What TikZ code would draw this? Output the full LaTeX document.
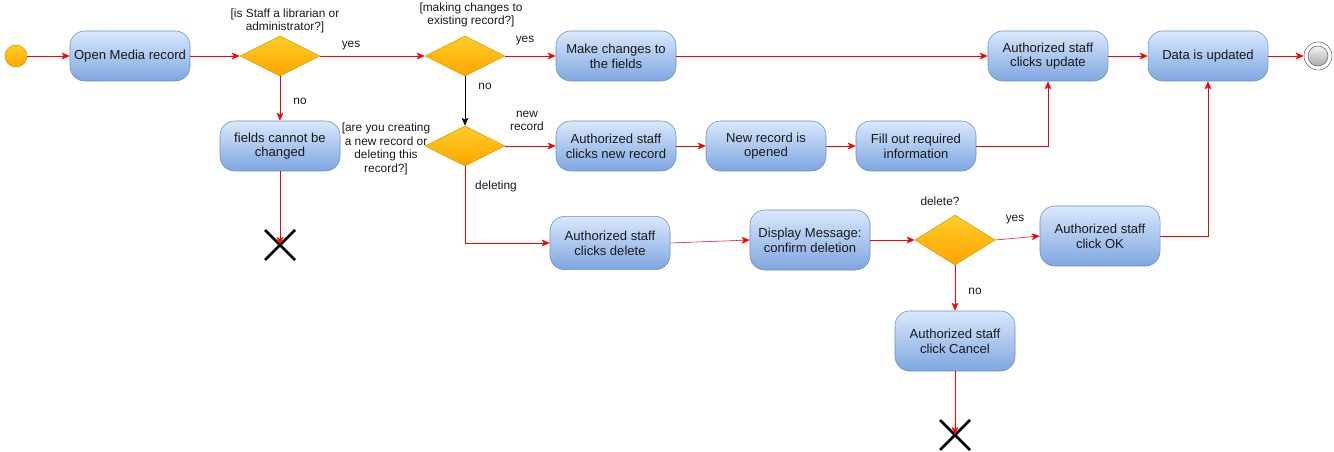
\documentclass[tikz,border=0pt]{standalone}
\usepackage{fontspec}
\setmainfont{Liberation Sans}
\usetikzlibrary{shapes.geometric,arrows.meta}
\definecolor{boxtop}{HTML}{DAE8FC}
\definecolor{boxbot}{HTML}{7EA6E0}
\definecolor{boxline}{HTML}{6C8EBF}
\definecolor{dtop}{HTML}{FFCD28}
\definecolor{dbot}{HTML}{FFA500}
\definecolor{dline}{HTML}{D79B00}
\definecolor{etop}{HTML}{F5F5F5}
\definecolor{ebot}{HTML}{A8A8A8}
\definecolor{eline}{HTML}{666666}
\definecolor{txt}{HTML}{1A1A1A}
\begin{document}
\begin{tikzpicture}[x=0.75pt,y=-0.75pt,
  act/.style={draw=boxline, top color=boxtop, bottom color=boxbot, rounded corners=11pt,
    minimum width=90pt, minimum height=37.5pt, inner sep=1pt, align=center,
    font=\fontsize{9.8}{11}\selectfont, text=txt},
  acttall/.style={act, minimum height=45pt},
  dec/.style={diamond, draw=dline, top color=dtop, bottom color=dbot, aspect=2,
    minimum width=60pt, minimum height=30pt, inner sep=0pt},
  lbl/.style={font=\fontsize{8.9}{10.3}\selectfont, text=txt, align=center, inner sep=0pt},
  flow/.style={draw=red, -{Stealth[length=6pt,width=5pt,inset=1.5pt]}},
  bflow/.style={draw=black, -{Stealth[length=6pt,width=5pt,inset=1.5pt]}},
  xmark/.style={draw=black, line width=2pt}
]
\useasboundingbox (0,0) rectangle (1334,452);

% start / end
\node[circle, draw=dline, top color=dtop, bottom color=dbot, minimum size=16.5pt, inner sep=0pt] (start) at (16,56) {};
\node[circle, draw=eline, fill=white, minimum size=21pt, inner sep=0pt] (end) at (1318,56) {};
\node[circle, draw=eline, top color=etop, bottom color=ebot, minimum size=15pt, inner sep=0pt] at (1318,56) {};

% top row
\node[act] (open) at (130,56) {Open Media record};
\node[dec] (d1) at (280,56) {};
\node[dec] (d2) at (465,56) {};
\node[act] (make) at (616,56) {Make changes to\\the fields};
\node[act] (upd) at (1048,56) {Authorized staff\\clicks update};
\node[act] (data) at (1208,56) {Data is updated};

% second row
\node[act] (cannot) at (280,146) {fields cannot be\\changed};
\node[dec] (d3) at (465,146) {};
\node[act] (newrec) at (616,146) {Authorized staff\\clicks new record};
\node[act] (opened) at (766,146) {New record is\\opened};
\node[act] (fill) at (916,146) {Fill out required\\information};

% third row
\node[act, minimum height=40pt] (del) at (610,243) {Authorized staff\\clicks delete};
\node[acttall] (msg) at (810,240) {Display Message:\\confirm deletion};
\node[dec, minimum width=60pt, minimum height=37.5pt] (d4) at (955,240) {};
\node[acttall] (ok) at (1100,236) {Authorized staff\\click OK};
\node[acttall] (cancel) at (955,341) {Authorized staff\\click Cancel};

% crosses
\coordinate (x1) at (280,245);
\coordinate (x2) at (955,435);
\draw[xmark] (265,230) -- (295,260) (265,260) -- (295,230);
\draw[xmark] (940,420) -- (970,450) (940,450) -- (970,420);

% labels
\node[lbl] (l1) at (285,21) {[is Staff a librarian or\\administrator?]};
\node[lbl] (l2) at (471,15) {[making changes to\\existing record?]};
\node[lbl] (l3) at (386,149) {[are you creating\\a new record or\\deleting this\\record?]};
\node[lbl] (y1) at (351,46) {yes};
\node[lbl] (y2) at (525,41) {yes};
\node[lbl] (n1) at (300,101) {no};
\node[lbl] (n2) at (485,86) {no};
\node[lbl] (nr) at (527,121) {new\\record};
\node[lbl] (dl) at (496,186) {deleting};
\node[lbl] (dq) at (940,201) {delete?};
\node[lbl] (y3) at (1015,220) {yes};
\node[lbl] (n3) at (975,291) {no};

% connectors
\draw[flow] (start) -- (open);
\draw[flow] (open) -- (d1);
\draw[flow] (d1) -- (d2);
\draw[flow] (d2) -- (make);
\draw[flow] (make) -- (upd);
\draw[flow] (upd) -- (data);
\draw[flow] (data) -- (end);
\draw[flow] (d1) -- (cannot);
\draw[flow] (cannot) -- (x1);
\draw[bflow] (d2) -- (d3);
\draw[flow] (d3) -- (newrec);
\draw[flow] (newrec) -- (opened);
\draw[flow] (opened) -- (fill);
\draw[flow] (fill.east) -| (upd.south);
\draw[flow] (d3.south) |- (del.west);
\draw[flow] (del.east) -- (msg.west);
\draw[flow] (msg) -- (d4);
\draw[flow] (d4.east) -- (ok.west);
\draw[flow] (ok.east) -| (data.south);
\draw[flow] (d4) -- (cancel);
\draw[flow] (cancel) -- (x2);
\end{tikzpicture}
\end{document}
